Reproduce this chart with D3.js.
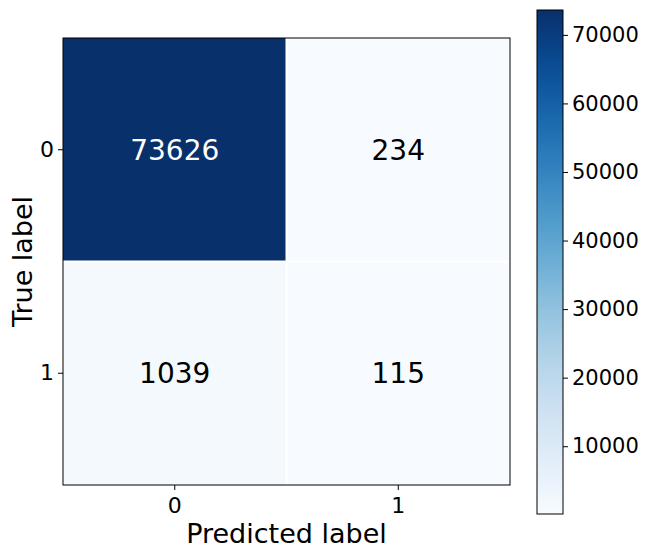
<!DOCTYPE html>
<html>
<head>
<meta charset="utf-8">
<script src="https://cdn.jsdelivr.net/npm/d3@7"></script>
<style>
  body { margin: 0; background: #fff; }
  text { font-family: "DejaVu Sans", sans-serif; }
</style>
</head>
<body>
<div id="chart"></div>
<script>
// Confusion matrix data
const trueLabels = ['0', '1']
const predLabels = ['0', '1']
const counts = [
  [73626, 234],
  [1039, 115]
]
const cbarTicks = [10000, 20000, 30000, 40000, 50000, 60000, 70000]

const W = 654, H = 557
const plot = { left: 63, top: 38, size: 447 }
const cbar = { left: 537, top: 10, width: 26, height: 504 }

let svg = d3.select('#chart').append('svg')
    .attr('width', W)
    .attr('height', H)

let cells = []
counts.forEach((row, i) => row.forEach((v, j) => cells.push({ i, j, v })))

let vMin = d3.min(cells, d => d.v),
    vMax = d3.max(cells, d => d.v)

let color = d3.scaleSequential(d3.interpolateBlues).domain([vMin, vMax])

let xScale = d3.scaleBand().domain(predLabels).range([plot.left, plot.left + plot.size])
let yScale = d3.scaleBand().domain(trueLabels).range([plot.top, plot.top + plot.size])

// Cells
svg.selectAll('.cell')
  .data(cells)
  .enter().append('rect')
  .attr('class', 'cell')
  .attr('x', d => xScale(predLabels[d.j]))
  .attr('y', d => yScale(trueLabels[d.i]))
  .attr('width', xScale.bandwidth())
  .attr('height', yScale.bandwidth())
  .attr('fill', d => color(d.v))

// White grid lines between cells
predLabels.slice(1).forEach(l => {
  svg.append('line')
    .attr('x1', xScale(l)).attr('x2', xScale(l))
    .attr('y1', plot.top).attr('y2', plot.top + plot.size)
    .attr('stroke', '#fff').attr('stroke-width', 2)
})
trueLabels.slice(1).forEach(l => {
  svg.append('line')
    .attr('y1', yScale(l)).attr('y2', yScale(l))
    .attr('x1', plot.left).attr('x2', plot.left + plot.size)
    .attr('stroke', '#fff').attr('stroke-width', 2)
})

// Cell values
let thresh = (vMax + vMin) / 2
svg.selectAll('.val')
  .data(cells)
  .enter().append('text')
  .attr('class', 'val')
  .attr('x', d => xScale(predLabels[d.j]) + xScale.bandwidth() / 2)
  .attr('y', d => yScale(trueLabels[d.i]) + yScale.bandwidth() / 2)
  .attr('dy', '0.36em')
  .attr('text-anchor', 'middle')
  .attr('font-size', 28)
  .attr('fill', d => d.v > thresh ? '#fff' : '#000')
  .text(d => d.v)

// Frame
svg.append('rect')
  .attr('x', plot.left).attr('y', plot.top)
  .attr('width', plot.size).attr('height', plot.size)
  .attr('fill', 'none').attr('stroke', '#000').attr('stroke-width', 1)

// Axes
let xAxis = d3.axisBottom(xScale).tickSize(5).tickPadding(7)
let yAxis = d3.axisLeft(yScale).tickSize(5).tickPadding(4)

let gx = svg.append('g')
  .attr('transform', 'translate(0,' + (plot.top + plot.size) + ')')
  .call(xAxis)
let gy = svg.append('g')
  .attr('transform', 'translate(' + plot.left + ',0)')
  .call(yAxis)

;[gx, gy].forEach(g => {
  g.select('.domain').remove()
  g.selectAll('text').attr('font-size', 22).attr('fill', '#000')
    .style('font-family', '"DejaVu Sans", sans-serif')
  g.selectAll('line').attr('stroke', '#000')
})

svg.append('text')
  .attr('x', plot.left + plot.size / 2)
  .attr('y', 543)
  .attr('text-anchor', 'middle')
  .attr('font-size', 27)
  .text('Predicted label')

svg.append('text')
  .attr('transform', 'translate(32,' + (plot.top + plot.size / 2) + ') rotate(-90)')
  .attr('text-anchor', 'middle')
  .attr('font-size', 27)
  .text('True label')

// Colorbar
let defs = svg.append('defs')
let grad = defs.append('linearGradient')
  .attr('id', 'cbar-grad')
  .attr('x1', 0).attr('y1', 1).attr('x2', 0).attr('y2', 0)
d3.range(0, 1.0001, 0.05).forEach(t => {
  grad.append('stop')
    .attr('offset', t)
    .attr('stop-color', d3.interpolateBlues(t))
})

svg.append('rect')
  .attr('x', cbar.left).attr('y', cbar.top)
  .attr('width', cbar.width).attr('height', cbar.height)
  .attr('fill', 'url(#cbar-grad)')
  .attr('stroke', '#000').attr('stroke-width', 1)

let cScale = d3.scaleLinear().domain([vMin, vMax]).range([cbar.top + cbar.height, cbar.top])
let cAxis = d3.axisRight(cScale).tickValues(cbarTicks).tickFormat(d3.format('d'))
    .tickSize(5).tickPadding(4)

let gc = svg.append('g')
  .attr('transform', 'translate(' + (cbar.left + cbar.width) + ',0)')
  .call(cAxis)
gc.select('.domain').remove()
gc.selectAll('text').attr('font-size', 21).attr('fill', '#000')
  .style('font-family', '"DejaVu Sans", sans-serif')
gc.selectAll('line').attr('stroke', '#000')
</script>
</body>
</html>
